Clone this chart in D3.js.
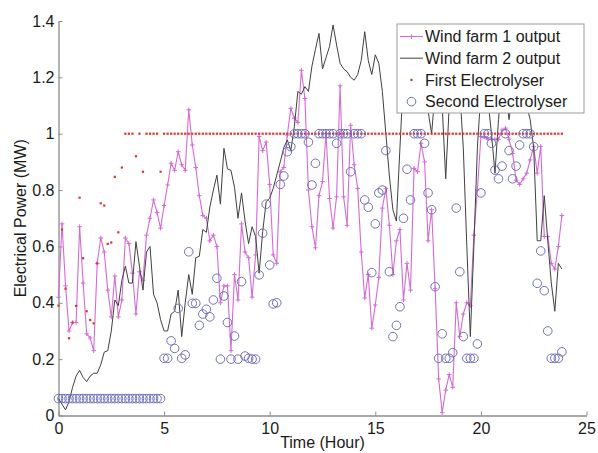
<!DOCTYPE html>
<html>
<head>
<meta charset="utf-8">
<script src="https://cdn.jsdelivr.net/npm/d3@7"></script>
<style>
  body { margin: 0; background: #fff; }
  svg { display: block; font-family: "Liberation Sans", Arial, Helvetica, sans-serif; }
</style>
</head>
<body>
<svg id="chart" width="598" height="453"></svg>
<script>
// 10-minute samples over one day (hours)
const stepHours = 1 / 6;

const wind1 = [0.42,0.68,0.46,0.30,0.33,0.33,0.67,0.47,0.29,0.275,
  0.23,0.54,0.63,0.58,0.445,0.35,0.495,0.35,0.41,0.63,
  0.61,0.505,0.36,0.51,0.48,0.64,0.70,0.765,0.72,0.665,
  0.745,0.818,0.895,0.87,0.936,0.89,0.87,1.085,0.96,0.88,
  0.78,0.71,0.70,0.62,0.64,0.60,0.40,0.46,0.46,0.23,
  0.50,0.41,0.68,0.58,0.56,0.42,0.57,0.99,0.94,0.97,
  0.82,0.57,0.54,0.865,0.88,0.995,1.09,1.055,1.04,1.225,
  1.125,0.80,0.67,0.595,0.78,0.83,1.0,0.77,0.665,0.776,
  1.17,0.776,0.675,1.03,0.89,0.806,0.58,0.417,0.5,0.31,
  0.392,0.49,0.736,0.806,0.675,0.5,0.62,0.66,0.41,0.54,
  0.445,0.877,0.865,0.966,0.90,0.62,0.73,0.45,0.13,0.01,
  0.09,0.145,0.10,0.40,0.28,0.36,0.40,0.39,0.64,0.80,
  0.99,0.99,0.98,0.98,0.98,0.98,1.013,1.02,0.98,0.93,
  0.835,0.82,0.84,0.86,0.907,0.955,0.86,0.955,0.635,0.635,
  0.54,0.52,0.60,0.71];

const wind2 = [0.06,0.04,0.02,0.05,0.10,0.14,0.16,0.135,0.12,0.14,
  0.15,0.15,0.18,0.225,0.23,0.30,0.41,0.39,0.48,0.53,
  0.47,0.47,0.617,0.53,0.445,0.58,0.60,0.43,0.40,0.34,
  0.30,0.30,0.36,0.37,0.445,0.28,0.40,0.50,0.43,0.56,
  0.565,0.66,0.65,0.74,0.80,0.853,0.75,0.948,0.875,0.87,
  0.81,0.70,0.79,0.69,0.61,0.67,0.635,0.505,0.652,0.759,
  0.771,0.806,0.853,0.90,0.95,0.978,0.94,1.025,1.15,1.14,
  1.167,1.15,1.24,1.30,1.356,1.23,1.27,1.31,1.386,1.315,
  1.25,1.23,1.22,1.20,1.19,1.21,1.26,1.362,1.26,1.21,
  1.28,1.25,1.15,1.0,0.85,0.73,0.69,0.95,1.2,1.25,
  1.2,1.15,1.2,1.15,1.1,1.08,1.0,1.15,1.2,1.1,
  0.84,1.1,1.2,1.22,1.15,0.95,0.6,0.28,0.60,0.95,
  1.15,1.2,1.12,1.0,0.86,1.05,1.2,1.15,1.05,1.15,
  1.2,1.15,1.17,1.1,1.05,0.95,0.62,0.62,0.78,0.62,
  0.47,0.37,0.54,0.52];

const electrolyser1 = [0.39,0.66,0.45,0.274,0.33,0.389,0.773,0.558,0.37,0.339,
  0.327,0.54,0.753,0.745,0.609,0.614,0.847,0.65,0.88,1,
  1,1,0.92,1,0.865,1,1,1,1,0.865,
  1,1,1,1,1,1,1,1,1,1,1,1,1,1,1,1,1,1,1,1,
  1,1,1,1,1,1,1,1,1,1,1,1,1,1,1,1,1,1,1,1,
  1,1,1,1,1,1,1,1,1,1,1,1,1,1,1,1,1,1,1,1,
  1,1,1,1,1,1,1,1,1,1,1,1,1,1,1,1,1,1,1,1,
  1,1,1,1,1,1,1,1,1,1,1,1,1,1,1,1,1,1,1,1,
  1,1,1,1,1,1,1,1,1,1,1,1,1,1];

const electrolyser2 = [0.06,0.06,0.06,0.06,0.06,0.06,0.06,0.06,0.06,0.06,
  0.06,0.06,0.06,0.06,0.06,0.06,0.06,0.06,0.06,0.06,
  0.06,0.06,0.06,0.06,0.06,0.06,0.06,0.06,0.06,0.06,
  0.203,0.203,0.265,0.238,0.38,0.203,0.215,0.581,0.398,0.398,
  0.32,0.36,0.377,0.35,0.41,0.487,0.2,0.424,0.33,0.2,
  0.282,0.2,0.475,0.211,0.203,0.2,0.2,0.499,0.647,0.75,
  0.534,0.396,0.40,0.82,0.85,0.936,0.954,1,1,1,
  1,0.97,0.818,0.895,1,1,1,1,1,0.966,
  1,1,1,0.865,1,1,1,0.765,0.739,0.507,
  0.68,0.79,0.80,0.94,0.51,0.28,0.32,0.386,0.70,0.874,
  0.765,1,1,1,0.966,0.79,0.73,0.457,0.203,0.29,
  0.203,0.203,0.223,0.736,0.51,0.28,0.203,0.203,0.203,0.254,
  0.79,1,1,0.966,0.871,0.84,0.885,1,0.94,0.84,
  0.885,0.96,1,1,1,0.954,0.469,0.584,0.443,0.30,
  0.203,0.203,0.203,0.226];

const xTicks = [0, 5, 10, 15, 20, 25];
const yTicks = [0, 0.2, 0.4, 0.6, 0.8, 1, 1.2, 1.4];
const legendLabels = ["Wind farm 1 output", "Wind farm 2 output", "First Electrolyser", "Second Electrolyser"];

const W = 598, H = 453, M = {t: 21, r: 11.5, b: 37.5, l: 58.5};
const innerW = W - M.l - M.r, innerH = H - M.t - M.b;

const C = {w1: "#d46bd6", w2: "#404040", e1: "#e3312b", e2: "#6f6fc0", axis: "#8c8c8c"};

const svg = d3.select("#chart");
svg.append("rect").attr("width", W).attr("height", H).attr("fill", "#fff");
const g = svg.append("g").attr("transform", `translate(${M.l},${M.t})`);

const x = d3.scaleLinear().domain([0, 25]).range([0, innerW]);
const y = d3.scaleLinear().domain([0, 1.4]).range([innerH, 0]);
const tAt = i => i * stepHours;

// --- axes (ticks point inward, no box) ---
const xAxis = g.append("g").attr("transform", `translate(0,${innerH})`)
  .call(d3.axisBottom(x).tickValues(xTicks).tickSizeInner(-4).tickSizeOuter(0).tickPadding(7));
const yAxis = g.append("g")
  .call(d3.axisLeft(y).tickValues(yTicks).tickFormat(d3.format("~g")).tickSizeInner(-4).tickSizeOuter(0).tickPadding(4));
[xAxis, yAxis].forEach(a => {
  a.select(".domain").attr("stroke", C.axis).attr("stroke-width", 1.3);
  a.selectAll(".tick line").attr("stroke", C.axis);
  a.selectAll("text").attr("fill", "#1a1a1a").style("font-size", "16px").attr("font-family", null);
});

svg.append("text").attr("x", M.l + innerW / 2).attr("y", 448)
  .attr("text-anchor", "middle").attr("fill", "#1a1a1a").style("font-size", "16px")
  .text("Time (Hour)");
svg.append("text").attr("transform", `translate(26,${M.t + innerH / 2}) rotate(-90)`)
  .attr("text-anchor", "middle").attr("fill", "#1a1a1a").style("font-size", "16px")
  .text("Electrical Power (MW)");

// --- series ---
const line = d3.line().x((d, i) => x(tAt(i))).y(d => y(d));

g.append("path").datum(wind1).attr("d", line)
  .attr("fill", "none").attr("stroke", C.w1).attr("stroke-width", 1.1);
g.append("g").selectAll("path").data(wind1).join("path")
  .attr("d", (d, i) => {
    const cx = x(tAt(i)), cy = y(d), s = 2.3;
    return `M${cx - s},${cy}H${cx + s}M${cx},${cy - s}V${cy + s}`;
  })
  .attr("stroke", C.w1).attr("stroke-width", 1);

g.append("path").datum(wind2).attr("d", line)
  .attr("fill", "none").attr("stroke", C.w2).attr("stroke-width", 1);

g.append("g").selectAll("rect").data(electrolyser1).join("rect")
  .attr("x", (d, i) => x(tAt(i)) - 1.1).attr("y", d => y(d) - 1.1)
  .attr("width", 2.2).attr("height", 2.2).attr("fill", C.e1);

g.append("g").selectAll("circle").data(electrolyser2).join("circle")
  .attr("cx", (d, i) => x(tAt(i))).attr("cy", d => y(d)).attr("r", 4.3)
  .attr("fill", "none").attr("stroke", C.e2).attr("stroke-width", 1);

// --- legend (opaque, drawn over the lines) ---
const lg = svg.append("g").attr("transform", "translate(397,24)");
lg.append("rect").attr("width", 187).attr("height", 89)
  .attr("fill", "#fff").attr("stroke", "#9a9a9a").attr("stroke-width", 1);
const rowY = i => 12.5 + i * 21.7;
legendLabels.forEach((label, i) => {
  const row = lg.append("g").attr("transform", `translate(0,${rowY(i)})`);
  if (i === 0) {
    row.append("line").attr("x1", 3).attr("x2", 26).attr("stroke", C.w1).attr("stroke-width", 1.1);
    row.append("path").attr("d", "M12.2,0H16.8M14.5,-2.3V2.3").attr("stroke", C.w1);
  } else if (i === 1) {
    row.append("line").attr("x1", 3).attr("x2", 26).attr("stroke", C.w2).attr("stroke-width", 1);
  } else if (i === 2) {
    row.append("rect").attr("x", 13.4).attr("y", -1.1).attr("width", 2.2).attr("height", 2.2).attr("fill", C.e1);
  } else {
    row.append("circle").attr("cx", 14.5).attr("r", 4.3).attr("fill", "none").attr("stroke", C.e2);
  }
  row.append("text").attr("x", 28).attr("y", 0).attr("dy", "0.36em")
    .attr("fill", "#1a1a1a").style("font-size", "16px").text(label);
});
</script>
</body>
</html>
